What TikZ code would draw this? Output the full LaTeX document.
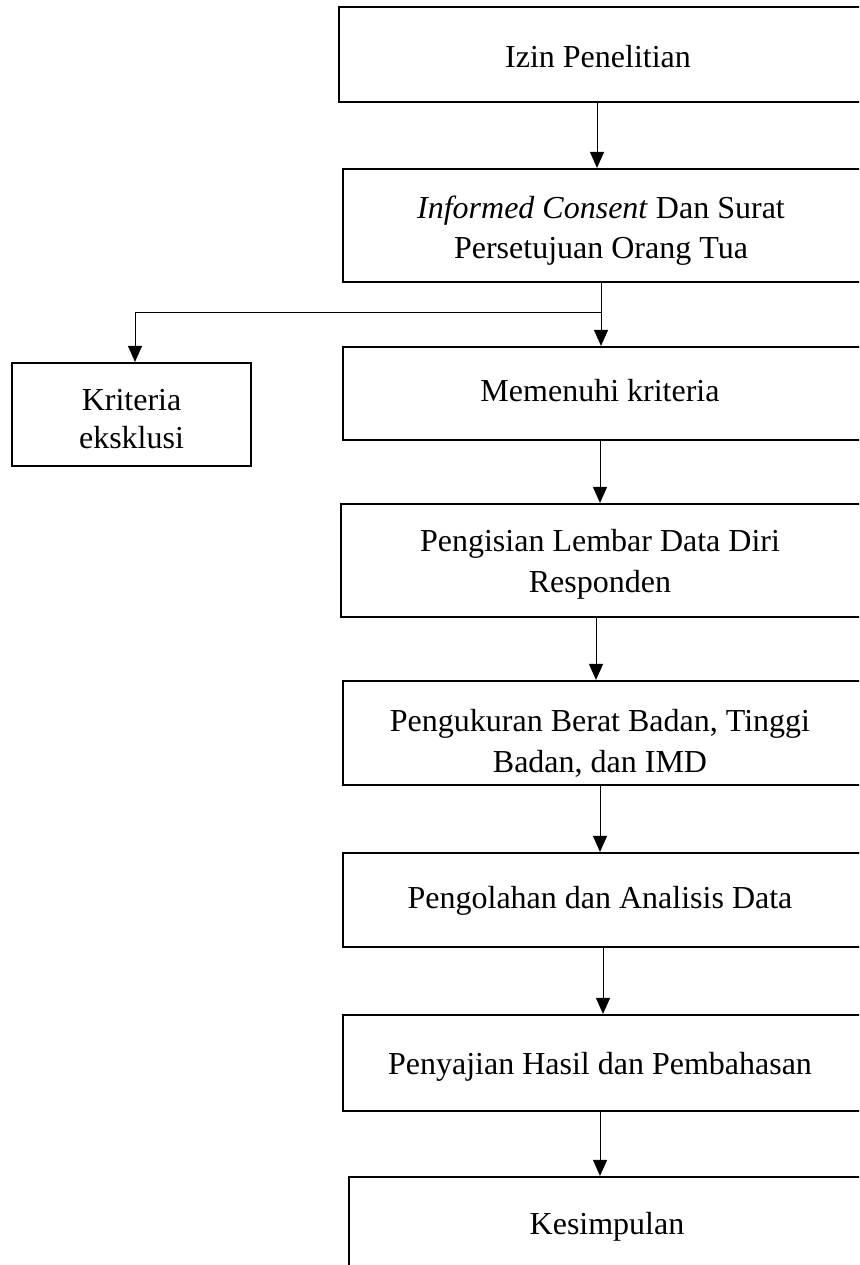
\documentclass[tikz,border=0pt]{standalone}
\usepackage{fontspec}
\setmainfont{Liberation Serif}
\usetikzlibrary{arrows.meta}
\begin{document}
\begin{tikzpicture}[x=1pt,y=-1pt,
  boxnode/.style={draw=black, line width=2.2pt, rectangle, inner sep=0pt, fill=white},
  txt/.style={anchor=north, inner sep=0pt, align=center, font=\fontsize{32}{40.5}\selectfont},
  arr/.style={draw=black, line width=1pt, -{Triangle[length=16pt,width=14pt]}}]
\useasboundingbox (0,0) rectangle (859,1265);
\clip (0,0) rectangle (859,1265);
\fill[white] (0,0) rectangle (859,1265);
% boxes
\node[boxnode, minimum width=541, minimum height=95]  (b1) at (609.5,54.5) {};
\node[boxnode, minimum width=537, minimum height=113] (b2) at (611.5,225.5) {};
\node[boxnode, minimum width=537, minimum height=93]  (b3) at (611.5,393.5) {};
\node[boxnode, minimum width=539, minimum height=113] (b4) at (610.5,560.5) {};
\node[boxnode, minimum width=537, minimum height=104] (b5) at (611.5,733) {};
\node[boxnode, minimum width=537, minimum height=94]  (b6) at (611.5,900) {};
\node[boxnode, minimum width=537, minimum height=96]  (b7) at (611.5,1063) {};
\node[boxnode, minimum width=531, minimum height=143] (b8) at (614.5,1248.5) {};
\node[boxnode, minimum width=239, minimum height=103] (bk) at (131.5,414.5) {};
% texts
\node[txt] (t1) at (598,45) {Izin Penelitian};
\node[txt] (t2) at (601,195.3) {\textit{Informed Consent} Dan Surat\\Persetujuan Orang Tua};
\node[txt] (t3) at (600,379.5) {Memenuhi kriteria};
\node[txt] (t4) at (600,529.3) {Pengisian Lembar Data Diri\\Responden};
\node[txt] (t5) at (600,709.3) {Pengukuran Berat Badan, Tinggi\\Badan, dan IMD};
\node[txt] (t6) at (600,886) {Pengolahan dan Analisis Data};
\node[txt] (t7) at (600,1052) {Penyajian Hasil dan Pembahasan};
\node[txt] (t8) at (607,1212.5) {Kesimpulan};
\node[txt, font=\fontsize{32}{38.5}\selectfont] (tk) at (131.5,389) {Kriteria\\eksklusi};
% connectors
\coordinate (a1) at (597,0);
\coordinate (j)  at (601,312);
\coordinate (a3) at (600,0);
\coordinate (a4) at (596,0);
\coordinate (a5) at (600,0);
\coordinate (a6) at (603,0);
\coordinate (a7) at (600,0);
\draw[arr] (b1.south -| a1) -- (b2.north -| a1);
\draw[arr] (b2.south -| j) -- (b3.north -| j);
\draw[arr] (j) -| ([xshift=3.5pt]bk.north);
\draw[arr] (b3.south -| a3) -- (b4.north -| a3);
\draw[arr] (b4.south -| a4) -- (b5.north -| a4);
\draw[arr] (b5.south -| a5) -- (b6.north -| a5);
\draw[arr] (b6.south -| a6) -- (b7.north -| a6);
\draw[arr] (b7.south -| a7) -- (b8.north -| a7);
\end{tikzpicture}
\end{document}
